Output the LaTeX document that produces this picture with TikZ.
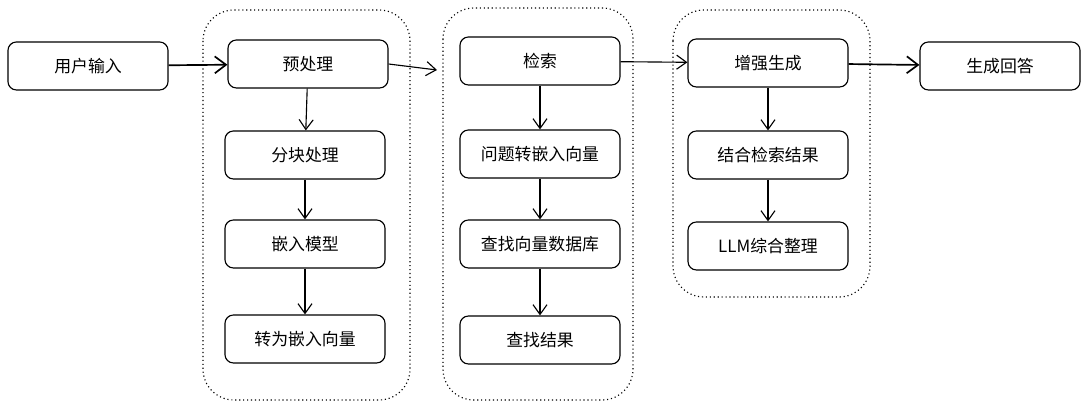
\documentclass[tikz,border=0pt]{standalone}
\usepackage{fontspec}
\setmainfont{Noto Sans CJK SC}
\usetikzlibrary{arrows.meta,positioning}
\tikzset{
  proc/.style={draw, thick, rounded corners=6pt, fill=white, minimum width=4cm, minimum height=1.2cm, font=\large},
  grp/.style={draw, thick, dotted, rounded corners=22pt},
  flow/.style={-{Straight Barb[length=7pt,width=10pt]}, thick},
  bigflow/.style={-{Straight Barb[length=8pt,width=12pt]}, very thick},
}
\begin{document}
\begin{tikzpicture}[x=0.025cm, y=-0.025cm]
  \useasboundingbox (0,0) rectangle (1092,411);

  % dotted groups
  \draw[grp] (203,10) rectangle (410,400);
  \draw[grp] (443,8) rectangle (633,400);
  \draw[grp] (673,10) rectangle (870,297);

  % steps
  \node[proc] (inp) at (88,66) {用户输入};
  \node[proc] (pre) at (308,64) {预处理};
  \node[proc] (chunk) at (305,155) {分块处理};
  \node[proc] (embm) at (305,244) {嵌入模型};
  \node[proc] (tovec) at (305,339) {转为嵌入向量};

  \node[proc] (ret) at (540,61) {检索};
  \node[proc] (qvec) at (540,154) {问题转嵌入向量};
  \node[proc] (search) at (540,244) {查找向量数据库};
  \node[proc] (res) at (540,340) {查找结果};

  \node[proc] (aug) at (768,63) {增强生成};
  \node[proc] (comb) at (768,155) {结合检索结果};
  \node[proc] (llm) at (768,246) {\textit{LLM}综合整理};

  \node[proc] (ans) at (1000,66) {生成回答};

  % connectors
  \coordinate (gap) at (437,70);
  \draw[bigflow] (inp) -- (pre);
  \draw[flow] (pre.east) -- (gap);
  \draw[flow] (pre) -- (chunk);
  \draw[flow] (chunk) -- (embm);
  \draw[flow] (embm) -- (tovec);
  \draw[flow] (ret) -- (qvec);
  \draw[flow] (qvec) -- (search);
  \draw[flow] (search) -- (res);
  \draw[flow] (ret) -- (aug);
  \draw[flow] (aug) -- (comb);
  \draw[flow] (comb) -- (llm);
  \draw[bigflow] (aug) -- (ans);
\end{tikzpicture}
\end{document}
